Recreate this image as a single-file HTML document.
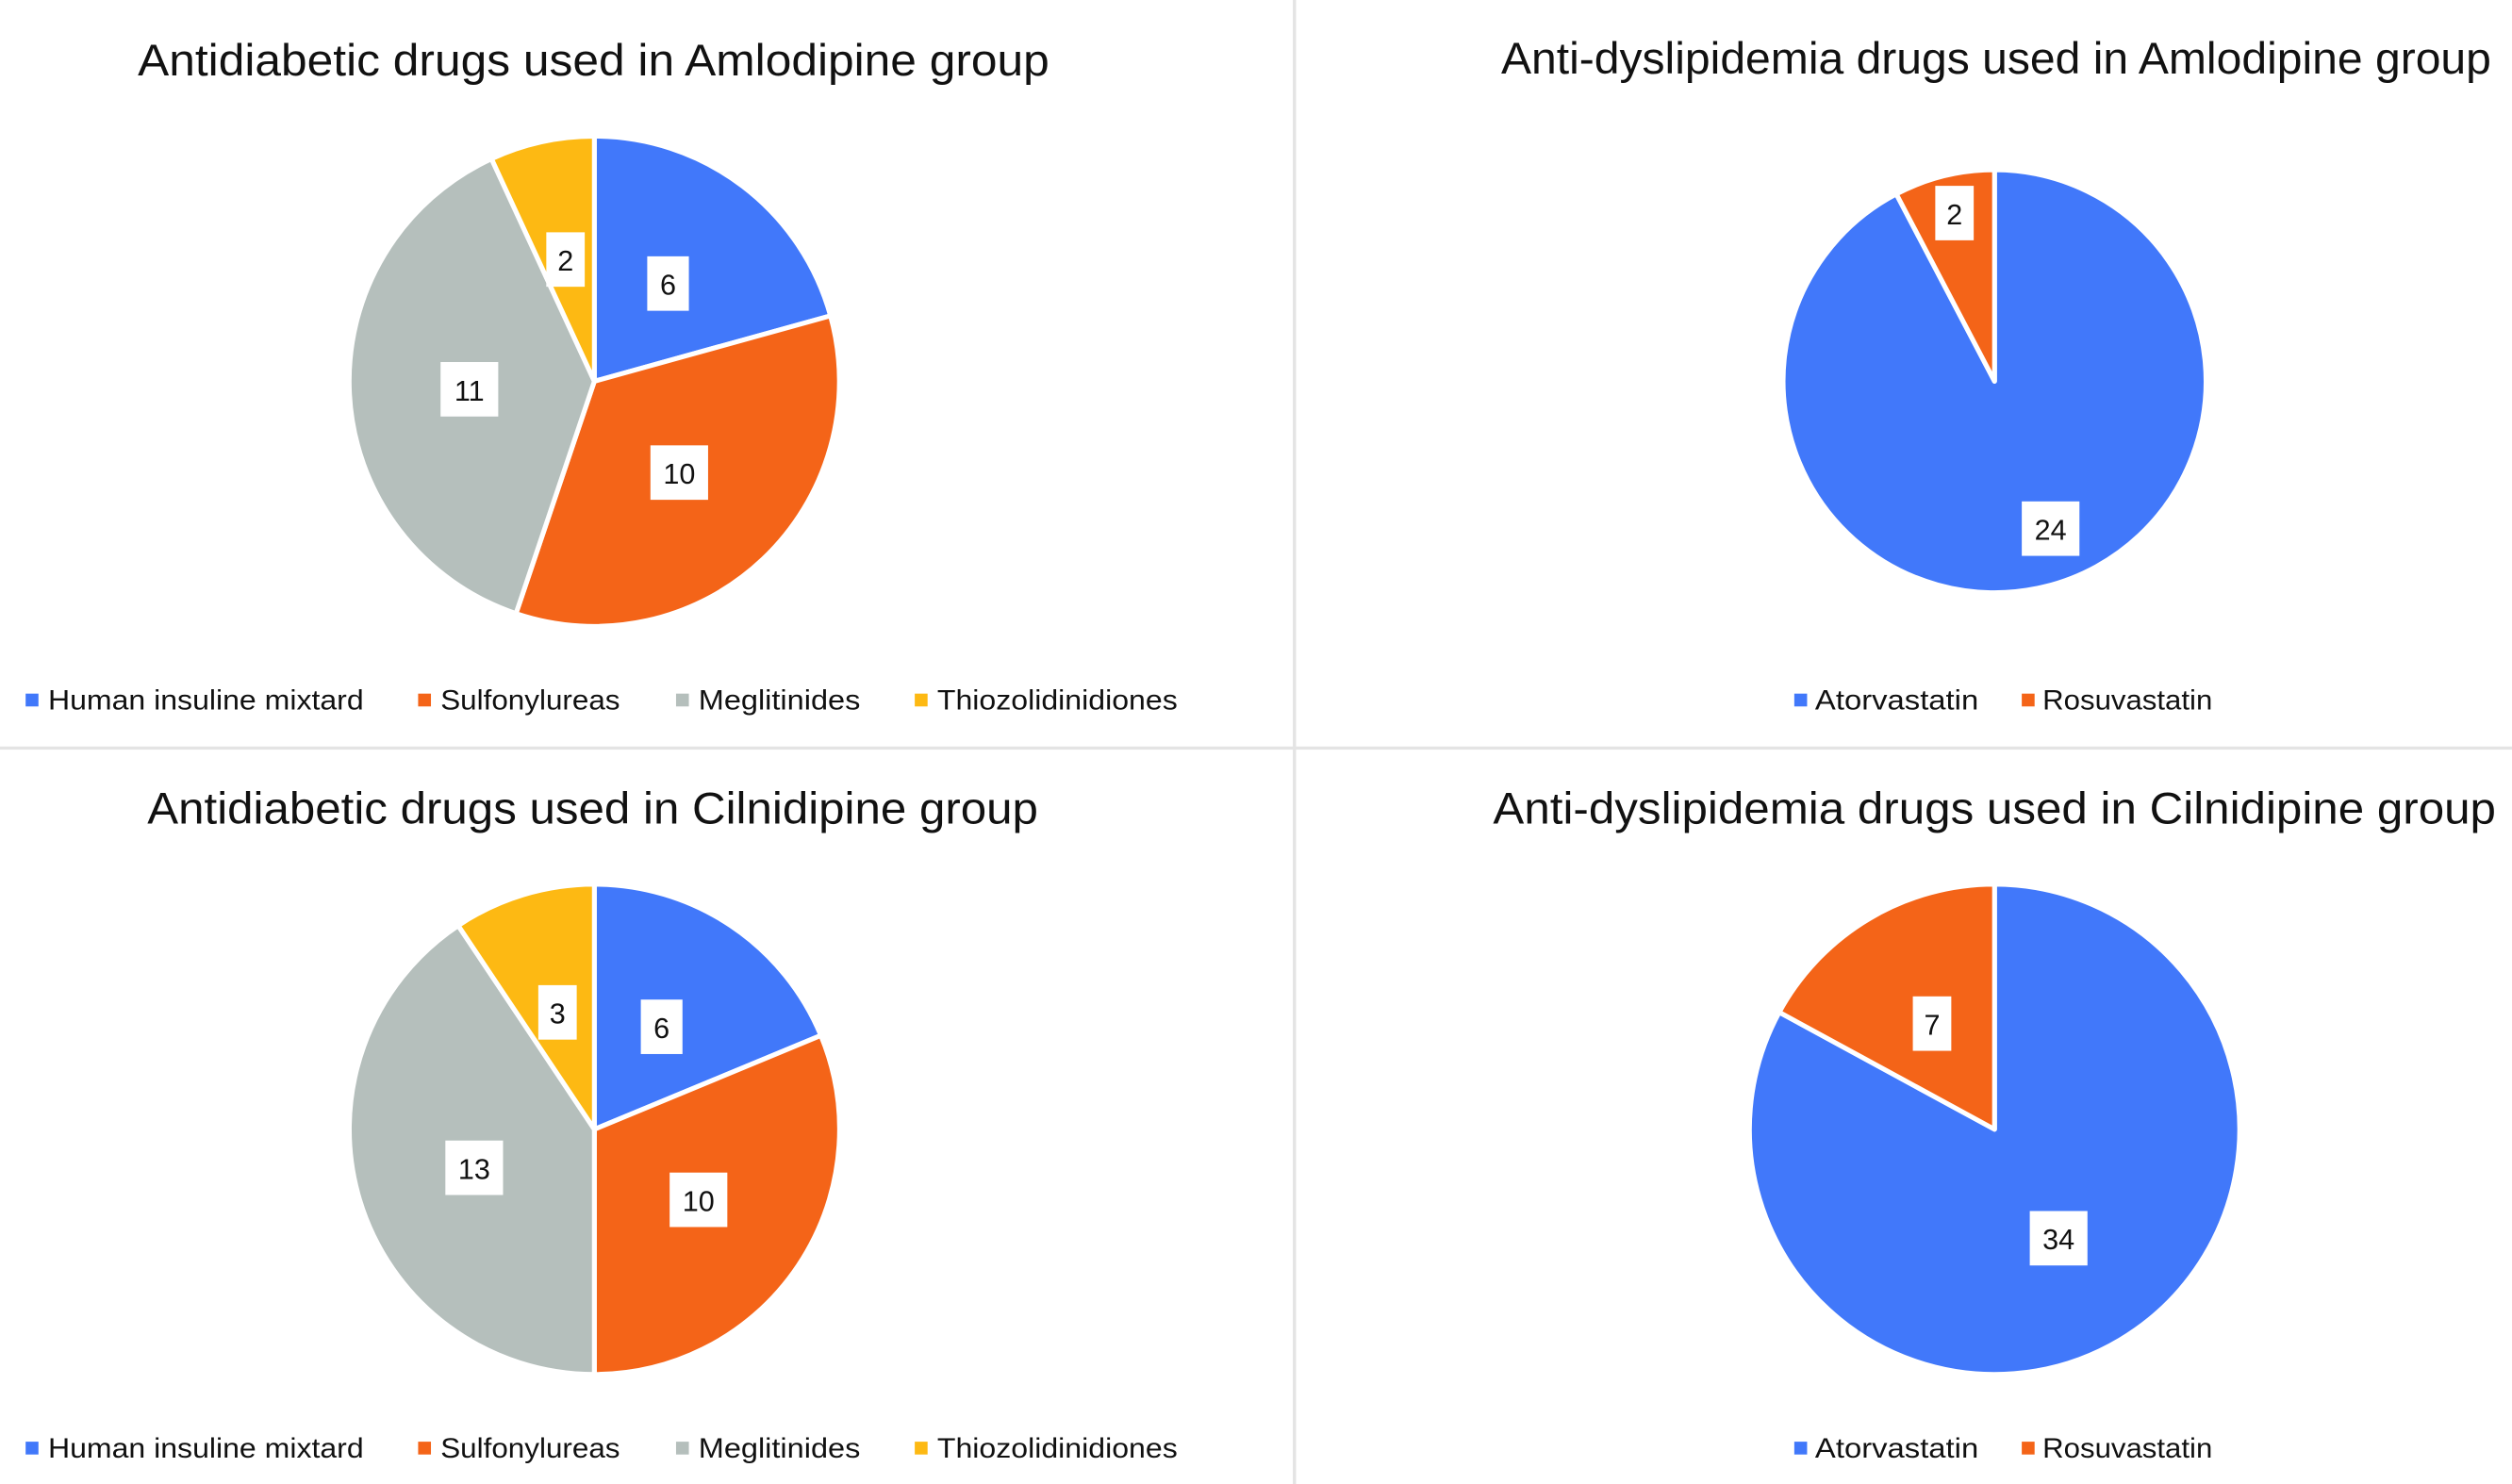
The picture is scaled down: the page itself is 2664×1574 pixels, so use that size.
<!DOCTYPE html>
<html><head><meta charset="utf-8"><style>
html,body{margin:0;padding:0;background:#fff;}
svg{display:block;}
text{font-family:"Liberation Sans","DejaVu Sans",sans-serif;fill:#111;}
.t{font-size:28px;}
.l{font-size:17.5px;}
.n{font-size:18px;text-anchor:middle;}
</style></head><body>
<svg width="2664" height="1574" viewBox="0 0 1568 926.4" xmlns="http://www.w3.org/2000/svg">
<rect x="0" y="0" width="1568" height="926.4" fill="#fff"/>
<line x1="808" y1="0" x2="808" y2="926.4" stroke="#e4e4e4" stroke-width="2"/>
<line x1="0" y1="467" x2="1568" y2="467" stroke="#e4e4e4" stroke-width="2"/>

<!-- Top-left -->
<text class="t" x="86" y="47" textLength="569" lengthAdjust="spacingAndGlyphs">Antidiabetic drugs used in Amlodipine group</text>
<g stroke="#fff" stroke-width="3" stroke-linejoin="round">
<path d="M371,238 L371,85 A153,153 0 0 1 518.4,197.1 Z" fill="#4178FA"/>
<path d="M371,238 L518.4,197.1 A153,153 0 0 1 322.1,383 Z" fill="#F46418"/>
<path d="M371,238 L322.1,383 A153,153 0 0 1 306.8,99.1 Z" fill="#B5BFBC"/>
<path d="M371,238 L306.8,99.1 A153,153 0 0 1 371,85 Z" fill="#FDB913"/>
</g>
<rect x="404" y="160" width="26" height="34" fill="#fff"/><text class="n" x="417" y="184">6</text>
<rect x="406" y="278" width="36" height="34" fill="#fff"/><text class="n" x="424" y="302">10</text>
<rect x="275" y="226" width="36" height="34" fill="#fff"/><text class="n" x="293" y="250">11</text>
<rect x="341" y="145" width="24" height="34" fill="#fff"/><text class="n" x="353" y="169">2</text>
<g>
<rect x="16" y="433" width="8" height="8" fill="#4178FA"/><text class="l" x="30" y="443" textLength="197" lengthAdjust="spacingAndGlyphs">Human insuline mixtard</text>
<rect x="261" y="433" width="8" height="8" fill="#F46418"/><text class="l" x="275" y="443" textLength="112" lengthAdjust="spacingAndGlyphs">Sulfonylureas</text>
<rect x="422" y="433" width="8" height="8" fill="#B5BFBC"/><text class="l" x="436" y="443" textLength="101" lengthAdjust="spacingAndGlyphs">Meglitinides</text>
<rect x="571" y="433" width="8" height="8" fill="#FDB913"/><text class="l" x="585" y="443" textLength="150" lengthAdjust="spacingAndGlyphs">Thiozolidinidiones</text>
</g>

<!-- Top-right -->
<text class="t" x="937" y="46" textLength="618" lengthAdjust="spacingAndGlyphs">Anti-dyslipidemia drugs used in Amlodipine group</text>
<g stroke="#fff" stroke-width="3" stroke-linejoin="round">
<path d="M1245,238 L1245,106 A132,132 0 1 1 1183.7,121.1 Z" fill="#4178FA"/>
<path d="M1245,238 L1183.7,121.1 A132,132 0 0 1 1245,106 Z" fill="#F46418"/>
</g>
<rect x="1208" y="116" width="24" height="34" fill="#fff"/><text class="n" x="1220" y="140">2</text>
<rect x="1262" y="313" width="36" height="34" fill="#fff"/><text class="n" x="1280" y="337">24</text>
<rect x="1120" y="433" width="8" height="8" fill="#4178FA"/><text class="l" x="1133" y="443" textLength="102" lengthAdjust="spacingAndGlyphs">Atorvastatin</text>
<rect x="1262" y="433" width="8" height="8" fill="#F46418"/><text class="l" x="1275" y="443" textLength="106" lengthAdjust="spacingAndGlyphs">Rosuvastatin</text>

<!-- Bottom-left -->
<text class="t" x="92" y="514" textLength="556" lengthAdjust="spacingAndGlyphs">Antidiabetic drugs used in Cilnidipine group</text>
<g stroke="#fff" stroke-width="3" stroke-linejoin="round">
<path d="M371,705 L371,552 A153,153 0 0 1 512.4,646.4 Z" fill="#4178FA"/>
<path d="M371,705 L512.4,646.4 A153,153 0 0 1 371,858 Z" fill="#F46418"/>
<path d="M371,705 L371,858 A153,153 0 0 1 286,577.8 Z" fill="#B5BFBC"/>
<path d="M371,705 L286,577.8 A153,153 0 0 1 371,552 Z" fill="#FDB913"/>
</g>
<rect x="400" y="624" width="26" height="34" fill="#fff"/><text class="n" x="413" y="648">6</text>
<rect x="418" y="732" width="36" height="34" fill="#fff"/><text class="n" x="436" y="756">10</text>
<rect x="278" y="712" width="36" height="34" fill="#fff"/><text class="n" x="296" y="736">13</text>
<rect x="336" y="615" width="24" height="34" fill="#fff"/><text class="n" x="348" y="639">3</text>
<g>
<rect x="16" y="900" width="8" height="8" fill="#4178FA"/><text class="l" x="30" y="910" textLength="197" lengthAdjust="spacingAndGlyphs">Human insuline mixtard</text>
<rect x="261" y="900" width="8" height="8" fill="#F46418"/><text class="l" x="275" y="910" textLength="112" lengthAdjust="spacingAndGlyphs">Sulfonylureas</text>
<rect x="422" y="900" width="8" height="8" fill="#B5BFBC"/><text class="l" x="436" y="910" textLength="101" lengthAdjust="spacingAndGlyphs">Meglitinides</text>
<rect x="571" y="900" width="8" height="8" fill="#FDB913"/><text class="l" x="585" y="910" textLength="150" lengthAdjust="spacingAndGlyphs">Thiozolidinidiones</text>
</g>

<!-- Bottom-right -->
<text class="t" x="932" y="514" textLength="626" lengthAdjust="spacingAndGlyphs">Anti-dyslipidemia drugs used in Cilnidipine group</text>
<g stroke="#fff" stroke-width="3" stroke-linejoin="round">
<path d="M1245,705 L1245,552 A153,153 0 1 1 1110.6,631.9 Z" fill="#4178FA"/>
<path d="M1245,705 L1110.6,631.9 A153,153 0 0 1 1245,552 Z" fill="#F46418"/>
</g>
<rect x="1194" y="622" width="24" height="34" fill="#fff"/><text class="n" x="1206" y="646">7</text>
<rect x="1267" y="756" width="36" height="34" fill="#fff"/><text class="n" x="1285" y="780">34</text>
<rect x="1120" y="900" width="8" height="8" fill="#4178FA"/><text class="l" x="1133" y="910" textLength="102" lengthAdjust="spacingAndGlyphs">Atorvastatin</text>
<rect x="1262" y="900" width="8" height="8" fill="#F46418"/><text class="l" x="1275" y="910" textLength="106" lengthAdjust="spacingAndGlyphs">Rosuvastatin</text>
</svg>
</body></html>
